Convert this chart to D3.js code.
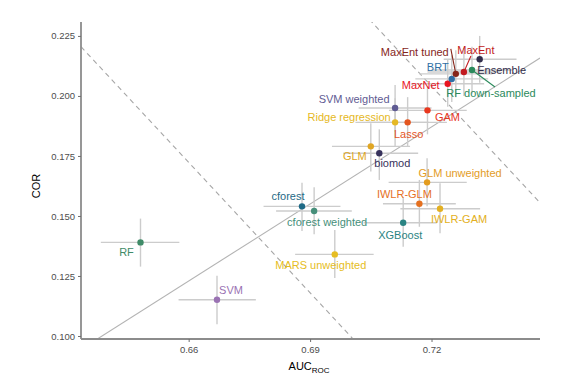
<!DOCTYPE html>
<html>
<head>
<meta charset="utf-8">
<script src="https://cdn.jsdelivr.net/npm/d3@7"></script>
<style>
  body { margin: 0; background: #fff; }
  text { font-family: "Liberation Sans", Arial, sans-serif; }
</style>
</head>
<body>
<div id="chart-area"></div>
<script>
// model names, means and error ranges
const models = ['RF', 'SVM', 'MARS unweighted', 'cforest', 'cforest weighted', 'XGBoost',
    'IWLR-GLM', 'IWLR-GAM', 'GLM unweighted', 'GLM', 'biomod', 'Ridge regression', 'Lasso',
    'SVM weighted', 'GAM', 'MaxNet', 'BRT', 'MaxEnt tuned', 'MaxEnt', 'RF down-sampled', 'Ensemble'];
const aucMean = [0.6481, 0.6670, 0.6961, 0.6880, 0.6910, 0.7130, 0.7170, 0.7221, 0.7189, 0.7050, 0.7071,
    0.7110, 0.7141, 0.7110, 0.7190, 0.7240, 0.7250, 0.7260, 0.7280, 0.7300, 0.7319];
const aucLow = [0.6383, 0.6575, 0.6863, 0.6785, 0.6816, 0.7032, 0.7080, 0.7123, 0.7094, 0.6954, 0.6982,
    0.7012, 0.7040, 0.7020, 0.7095, 0.7150, 0.7160, 0.7170, 0.7190, 0.7200, 0.7230];
const aucHigh = [0.6577, 0.6766, 0.7057, 0.6975, 0.7003, 0.7213, 0.7260, 0.7320, 0.7287, 0.7147, 0.7167,
    0.7193, 0.7238, 0.7200, 0.7287, 0.7330, 0.7340, 0.7350, 0.7370, 0.7400, 0.7410];
const corMean = [0.1390, 0.1151, 0.1340, 0.1540, 0.1521, 0.1472, 0.1551, 0.1530, 0.1640, 0.1790, 0.1761,
    0.1890, 0.1890, 0.1950, 0.1940, 0.2051, 0.2071, 0.2092, 0.2100, 0.2108, 0.2153];
const corLow = [0.1289, 0.1049, 0.1242, 0.1437, 0.1424, 0.1372, 0.1455, 0.1428, 0.1540, 0.1685, 0.1650,
    0.1790, 0.1790, 0.1850, 0.1840, 0.1955, 0.1975, 0.1995, 0.2000, 0.2010, 0.2055];
const corHigh = [0.1489, 0.1251, 0.1442, 0.1638, 0.1620, 0.1578, 0.1650, 0.1636, 0.1740, 0.1886, 0.1861,
    0.1990, 0.1995, 0.2046, 0.2040, 0.2150, 0.2170, 0.2190, 0.2200, 0.2205, 0.2250];
const modelColors = ['#3f8b68', '#9a72b3', '#e6bd22', '#1f6a86', '#468f7a', '#2a8483',
    '#e5701f', '#e3b022', '#e39c1f', '#e0a623', '#37325c', '#e5b824', '#e4561f',
    '#5f5b93', '#e8381f', '#e8151f', '#2f6fa5', '#86261a', '#c21b20', '#2b8a5c', '#312d4b'];

// reference lines (COR = intercept + slope * AUC)
const fitLine = { intercept: -0.5833, slope: 1.07 };
const isoLines = [
    { intercept: 0.2205 + 1.811 * 0.6334, slope: -1.811 },
    { intercept: 0.2305 + 1.811 * 0.7054, slope: -1.811 }
];

const xTicks = [0.66, 0.69, 0.72];
const yTicks = [0.100, 0.125, 0.150, 0.175, 0.200, 0.225];

// label placement in pixels relative to the point (repel style)
const labelOffset = {
    'RF': [-14, 10], 'SVM': [14, -10], 'MARS unweighted': [-14, 11], 'cforest': [-14, -10],
    'cforest weighted': [13, 11], 'XGBoost': [-3, 12], 'IWLR-GLM': [-15, -10], 'IWLR-GAM': [19, 10],
    'GLM unweighted': [33, -9], 'GLM': [-16, 10], 'biomod': [13, 10], 'Ridge regression': [-46, -5],
    'Lasso': [1, 12], 'SVM weighted': [-41, -9], 'GAM': [20, 7], 'MaxNet': [-27, 1], 'BRT': [-14, -12],
    'MaxEnt tuned': [-41, -22], 'MaxEnt': [12, -22], 'RF down-sampled': [19, 23], 'Ensemble': [22, 11]
};
const labelSegment = {
    'MaxEnt tuned': [-5, -25], 'MaxEnt': [7, -16], 'RF down-sampled': [23, 17]
};

window.addEventListener('DOMContentLoaded', () => {

    const margin = { top: 22, right: 27, bottom: 35, left: 81 };
    const width = 567 - margin.left - margin.right;
    const height = 374 - margin.top - margin.bottom;

    const svg = d3.select('#chart-area')
        .append('svg')
        .attr('width', 567)
        .attr('height', 374);

    svg.append('defs').append('clipPath')
        .attr('id', 'panel')
        .append('rect')
        .attr('width', width)
        .attr('height', height);

    const chart = svg.append('g')
        .attr('transform', `translate(${margin.left},${margin.top})`);

    const x = d3.scaleLinear().domain([0.6334, 0.7468]).range([0, width]);
    const y = d3.scaleLinear().domain([0.09875, 0.2308]).range([height, 0]);

    const data = models.map((m, i) => ({
        name: m, auc: aucMean[i], aucLo: aucLow[i], aucHi: aucHigh[i],
        cor: corMean[i], corLo: corLow[i], corHi: corHigh[i], color: modelColors[i]
    }));

    const lines = chart.append('g').attr('clip-path', 'url(#panel)');
    const [x0, x1] = x.domain();

    // error bars
    const bars = chart.append('g').attr('stroke', '#cccccc').attr('stroke-width', 1.4);
    bars.selectAll('.h').data(data).join('line')
        .attr('x1', d => x(d.aucLo)).attr('x2', d => x(d.aucHi))
        .attr('y1', d => y(d.cor)).attr('y2', d => y(d.cor));
    bars.selectAll('.v').data(data).join('line')
        .attr('class', 'v')
        .attr('x1', d => x(d.auc)).attr('x2', d => x(d.auc))
        .attr('y1', d => y(d.corLo)).attr('y2', d => y(d.corHi));

    lines.append('line')
        .attr('x1', x(x0)).attr('y1', y(fitLine.intercept + fitLine.slope * x0))
        .attr('x2', x(x1)).attr('y2', y(fitLine.intercept + fitLine.slope * x1))
        .attr('stroke', '#b3b3b3')
        .attr('stroke-width', 1.1);

    lines.selectAll('.iso').data(isoLines).join('line')
        .attr('x1', x(x0)).attr('y1', d => y(d.intercept + d.slope * x0))
        .attr('x2', x(x1)).attr('y2', d => y(d.intercept + d.slope * x1))
        .attr('stroke', '#a6a6a6')
        .attr('stroke-width', 1.1)
        .attr('stroke-dasharray', '5,4');

    // label segments
    chart.append('g').selectAll('line')
        .data(data.filter(d => labelSegment[d.name]))
        .join('line')
        .attr('x1', d => x(d.auc)).attr('y1', d => y(d.cor))
        .attr('x2', d => x(d.auc) + labelSegment[d.name][0])
        .attr('y2', d => y(d.cor) + labelSegment[d.name][1])
        .attr('stroke', d => d.color)
        .attr('stroke-width', 1.1);

    chart.append('g').selectAll('circle')
        .data(data)
        .join('circle')
        .attr('cx', d => x(d.auc))
        .attr('cy', d => y(d.cor))
        .attr('r', 3.2)
        .attr('fill', d => d.color);

    chart.append('g').selectAll('text')
        .data(data)
        .join('text')
        .attr('x', d => x(d.auc) + labelOffset[d.name][0])
        .attr('y', d => y(d.cor) + labelOffset[d.name][1])
        .attr('dy', '0.35em')
        .attr('text-anchor', 'middle')
        .attr('font-size', 11)
        .attr('fill', d => d.color)
        .text(d => d.name);

    // axes
    const xAxis = chart.append('g')
        .attr('transform', `translate(0,${height})`)
        .call(d3.axisBottom(x).tickValues(xTicks).tickFormat(d3.format('.2f')).tickSize(3).tickPadding(4));
    const yAxis = chart.append('g')
        .call(d3.axisLeft(y).tickValues(yTicks).tickFormat(d3.format('.3f')).tickSize(3).tickPadding(3));

    [xAxis, yAxis].forEach(a => {
        a.select('.domain').attr('stroke', '#8c8c8c').attr('stroke-width', 1.8);
        a.selectAll('.tick line').attr('stroke', '#6e6e6e').attr('stroke-width', 1);
        a.selectAll('.tick text').attr('fill', '#4d4d4d').attr('font-size', 9.5)
            .attr('font-family', '"Liberation Sans", Arial, sans-serif');
    });
    xAxis.select('.domain').attr('d', `M0,0H${width}`);
    yAxis.select('.domain').attr('d', `M0,${height}V0`);

    const xTitle = svg.append('text')
        .attr('x', margin.left + x(0.69) - 1)
        .attr('y', 370)
        .attr('text-anchor', 'middle')
        .attr('font-size', 11)
        .attr('fill', '#000');
    xTitle.append('tspan').text('AUC');
    xTitle.append('tspan').attr('font-size', 8).attr('dy', 2.5).text('ROC');

    svg.append('text')
        .attr('transform', `translate(40,${margin.top + y(0.1625)}) rotate(-90)`)
        .attr('text-anchor', 'middle')
        .attr('font-size', 11)
        .attr('fill', '#000')
        .text('COR');

});
</script>
</body>
</html>
